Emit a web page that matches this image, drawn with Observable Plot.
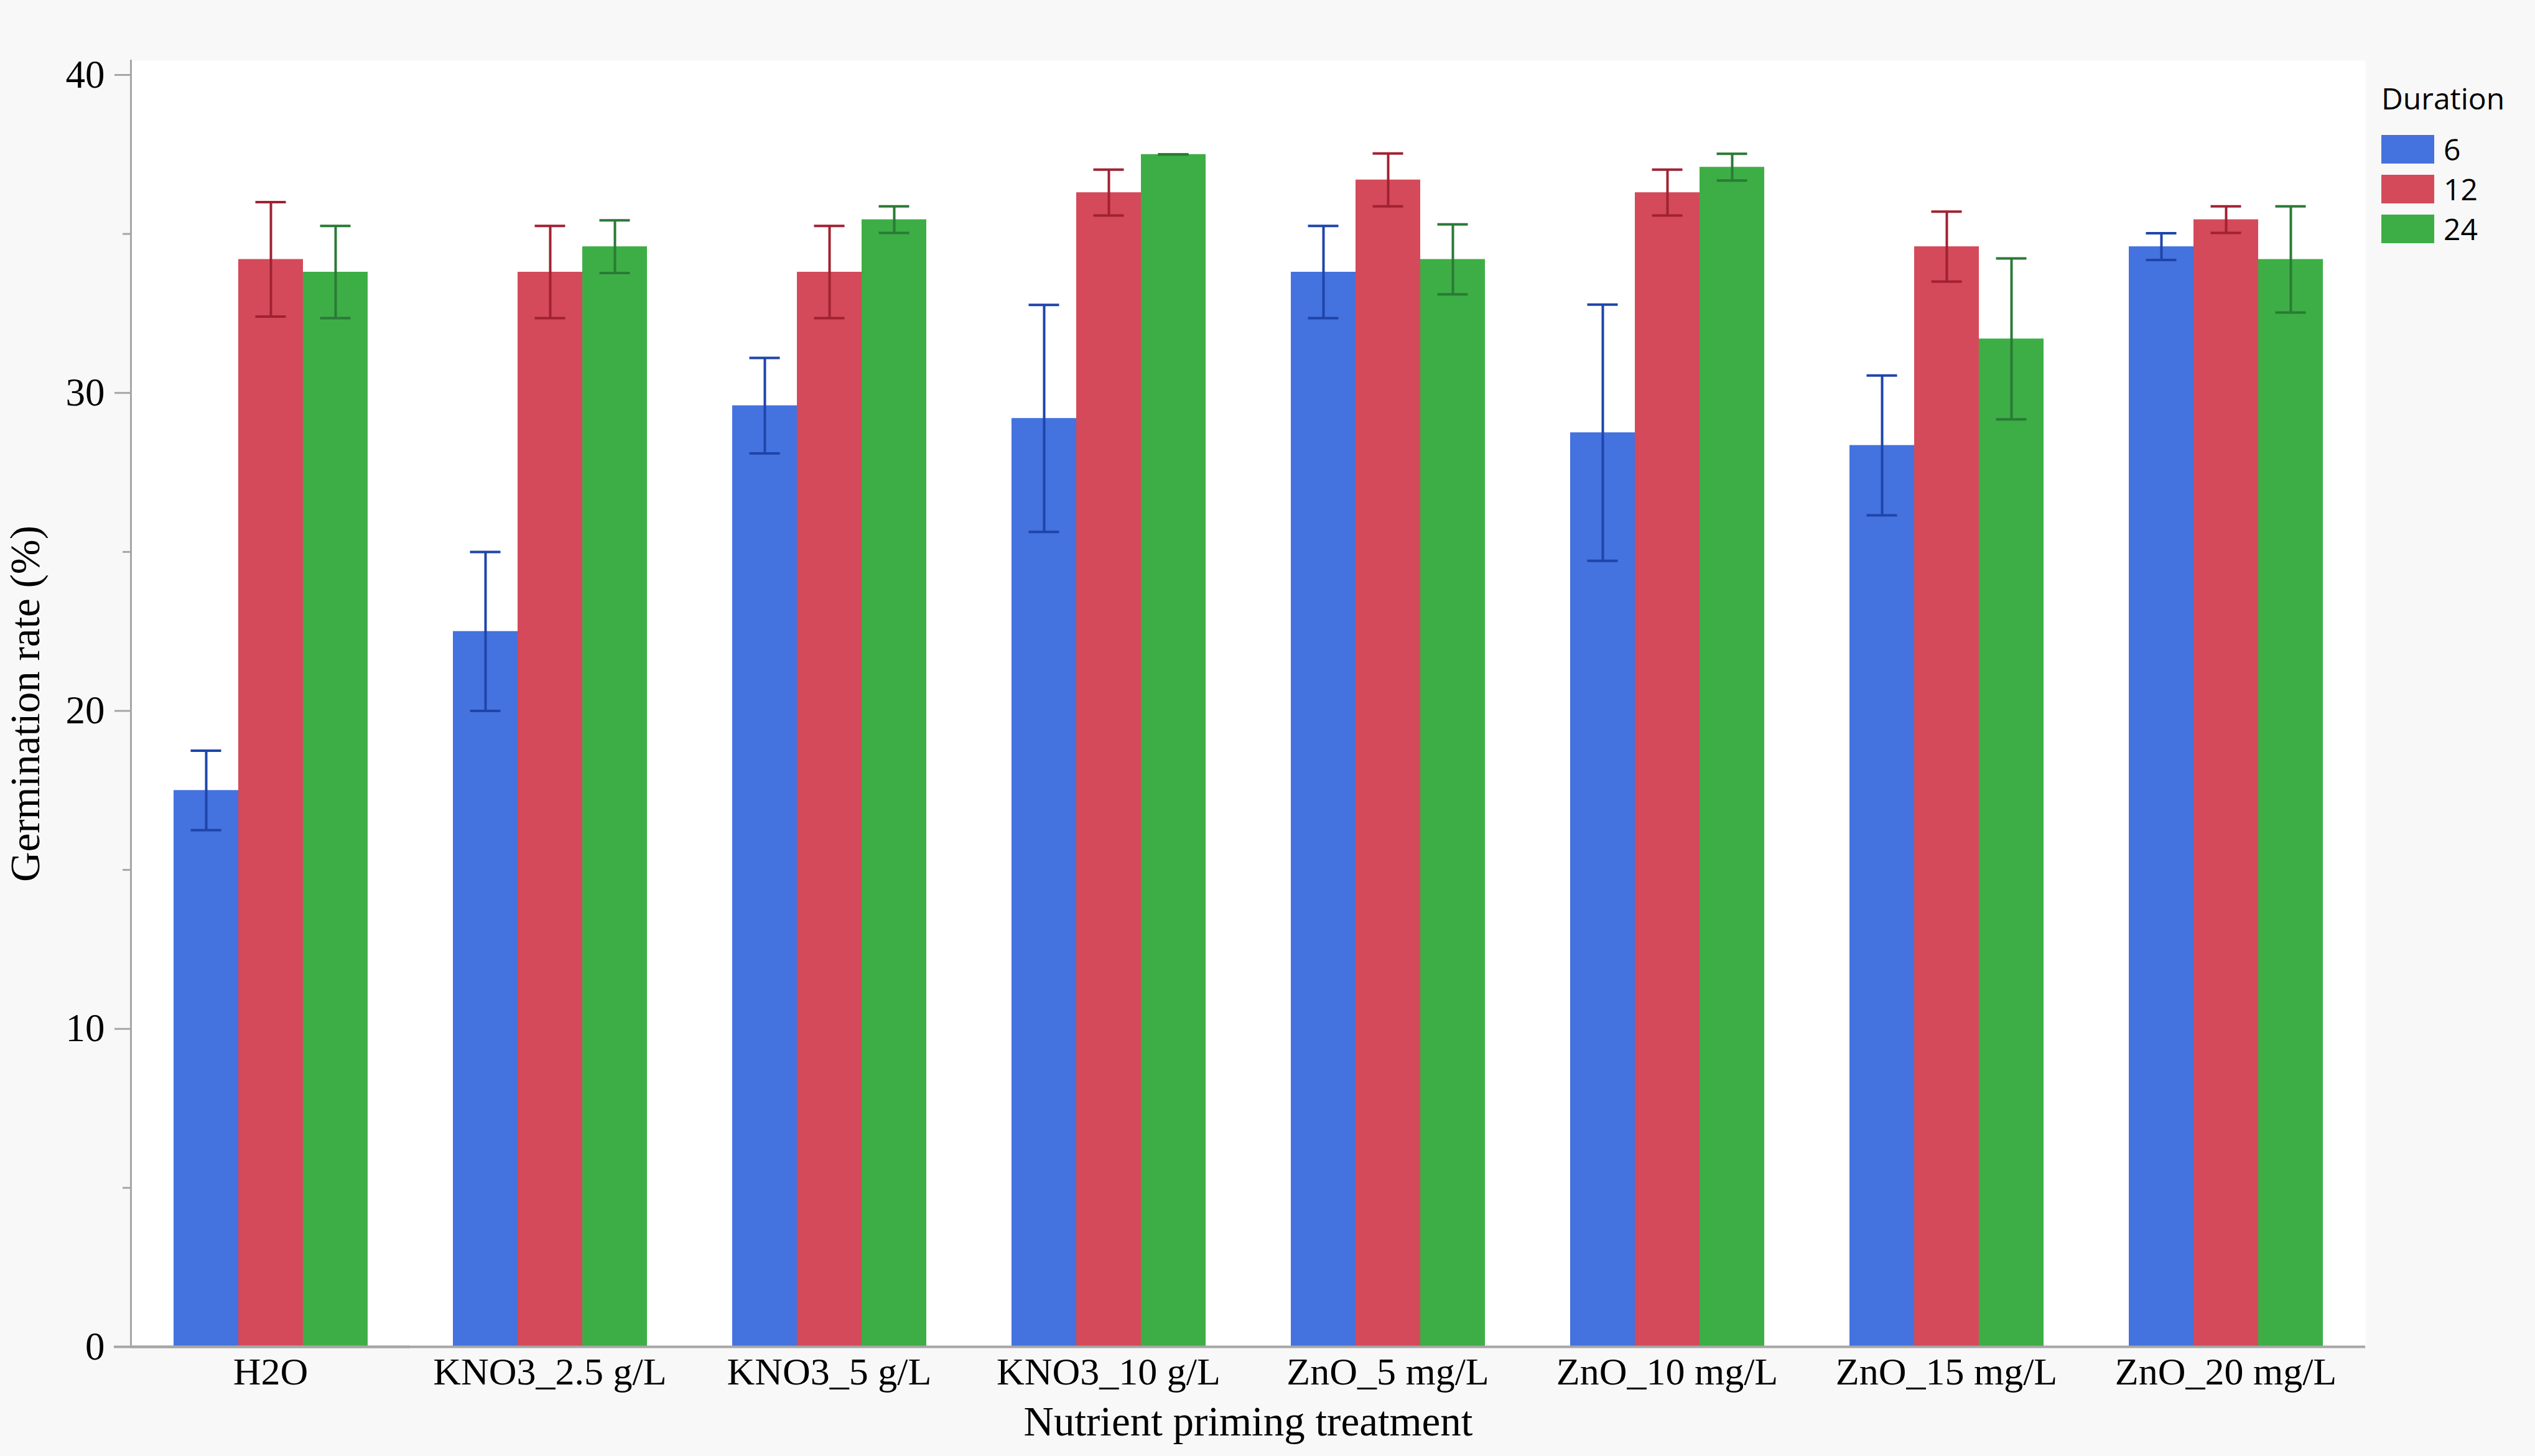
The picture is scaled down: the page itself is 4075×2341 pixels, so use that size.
<!DOCTYPE html>
<html>
<head>
<meta charset="utf-8">
<script src="https://cdn.jsdelivr.net/npm/d3@7"></script>
<script src="https://cdn.jsdelivr.net/npm/@observablehq/plot@0.6"></script>
<style>
  html, body { margin: 0; padding: 0; background: #f8f8f8; }
  #wrap { position: relative; width: 4075px; height: 2341px; overflow: hidden; background: #f8f8f8; }
  #wrap svg { position: absolute; left: 0; top: 0; }
  #legend { position: absolute; left: 3828px; top: 133px; font-family: "Open Sans", "Noto Sans", sans-serif; color: #000; }
  #legend .title { font-size: 48px; line-height: 50px; height: 50px; margin-bottom: 34px; }
  #legend .row { display: flex; align-items: flex-start; height: 46px; margin-bottom: 18px; }
  #legend .sw { width: 85px; height: 46px; }
  #legend .lab { margin-left: 15px; font-size: 48px; line-height: 46px; height: 46px; }
</style>
</head>
<body>
<div id="wrap"></div>
<script>
// ---- data ----
const treatments = ["H2O", "KNO3_2.5 g/L", "KNO3_5 g/L", "KNO3_10 g/L", "ZnO_5 mg/L", "ZnO_10 mg/L", "ZnO_15 mg/L", "ZnO_20 mg/L"];
const durations = ["6", "12", "24"];
const mean6  = [17.5, 22.5, 29.6, 29.2, 33.8, 28.75, 28.35, 34.6];
const err6   = [1.25, 2.5, 1.5, 3.57, 1.45, 4.03, 2.2, 0.42];
const mean12 = [34.2, 33.8, 33.8, 36.3, 36.7, 36.3, 34.6, 35.45];
const err12  = [1.8, 1.45, 1.45, 0.72, 0.83, 0.72, 1.1, 0.42];
const mean24 = [33.8, 34.6, 35.45, 37.5, 34.2, 37.1, 31.7, 34.2];
const err24  = [1.45, 0.83, 0.42, 0, 1.1, 0.42, 2.53, 1.67];
const barColors = ["#4472DE", "#D44A5A", "#3DAE46"];
const errColors = ["#1F45AA", "#A02232", "#2A7A36"];
const yMajorTicks = [0, 10, 20, 30, 40];
const yMinorTicks = [5, 15, 25, 35];
const axisGrey = "#A6A6A6";

const means = {"6": mean6, "12": mean12, "24": mean24};
const errs = {"6": err6, "12": err12, "24": err24};
const rows = [];
durations.forEach(dur => {
  treatments.forEach((t, i) => {
    const m = means[dur][i], e = errs[dur][i];
    rows.push({treatment: t, duration: dur, value: m, lo: m - e, hi: m + e});
  });
});

const errMarks = durations.flatMap((dur, k) => {
  const sub = rows.filter(d => d.duration === dur);
  return [
    Plot.ruleX(sub, {fx: "treatment", x: "duration", y1: "lo", y2: "hi", stroke: errColors[k], strokeWidth: 4}),
    Plot.tickY(sub, {fx: "treatment", x: "duration", y: "hi", stroke: errColors[k], strokeWidth: 4, inset: 27.5}),
    Plot.tickY(sub, {fx: "treatment", x: "duration", y: "lo", stroke: errColors[k], strokeWidth: 4, inset: 27.5})
  ];
});

const chart = Plot.plot({
  width: 3820,
  height: 2341,
  marginLeft: 210,
  marginRight: 18,
  marginTop: 97,
  marginBottom: 176,
  style: {fontFamily: "'Liberation Serif', 'Times New Roman', serif", background: "transparent", color: "#000", overflow: "visible"},
  fx: {domain: treatments, padding: 0},
  x: {domain: durations, paddingInner: 0, paddingOuter: 0.64, axis: null},
  y: {domain: [0, 40.45]},
  color: {domain: durations, range: barColors},
  marks: [
    Plot.frame({fill: "white", stroke: null}),
    Plot.barY(rows, {fx: "treatment", x: "duration", y: "value", fill: "duration"}),
    ...errMarks,
    Plot.ruleY([0], {stroke: axisGrey, strokeWidth: 4}),
    Plot.ruleY([0], {stroke: axisGrey, strokeWidth: 4, insetLeft: -27, facetAnchor: "left"}),
    Plot.frame({anchor: "left", stroke: axisGrey, strokeWidth: 3, facetAnchor: "left"}),
    Plot.axisY({ticks: yMajorTicks, tickSize: 26, tickPadding: 16, fontSize: 63, stroke: axisGrey, strokeWidth: 3, fill: "black", label: null}),
    Plot.axisY({ticks: yMinorTicks, tickSize: 13, tickFormat: () => "", stroke: axisGrey, strokeWidth: 3, label: null}),
    Plot.axisY({ticks: [], label: "Germination rate (%)", labelArrow: "none", labelAnchor: "center", labelOffset: 195, fontSize: 67, fill: "black"}),
    Plot.axisFx({anchor: "bottom", tickSize: 0, tickPadding: 16, fontSize: 62, fill: "black", label: null}),
    Plot.axisFx({anchor: "bottom", ticks: [], tickSize: 0, label: "Nutrient priming treatment", labelArrow: "none", labelAnchor: "center", labelOffset: 142, fontSize: 67, fill: "black"})
  ]
});

const wrap = document.getElementById("wrap");
wrap.appendChild(chart);

// ---- legend ----
const legend = d3.select(wrap).append("div").attr("id", "legend");
legend.append("div").attr("class", "title").text("Duration");
durations.forEach((dur, k) => {
  const row = legend.append("div").attr("class", "row");
  row.append("div").attr("class", "sw").style("background", barColors[k]);
  row.append("div").attr("class", "lab").text(dur);
});
</script>
</body>
</html>
